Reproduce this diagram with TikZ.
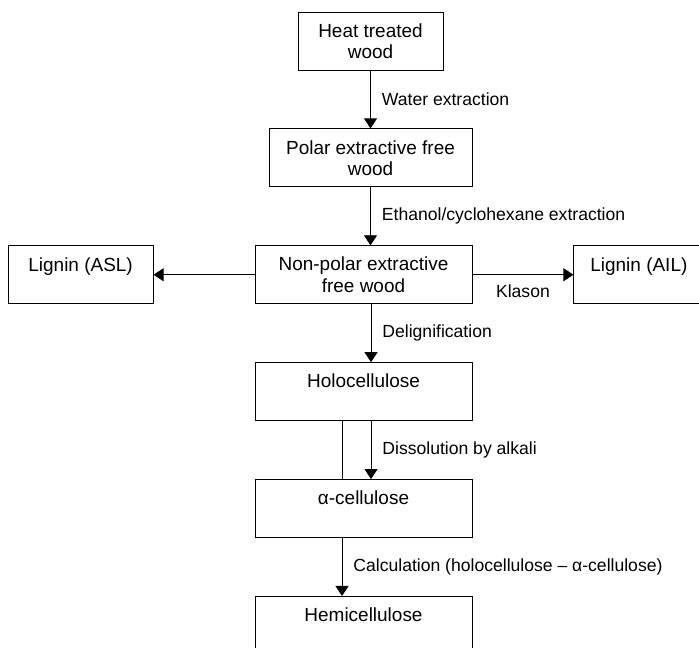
\documentclass[tikz,border=0pt]{standalone}
\usepackage{fontspec}
\setmainfont{Liberation Sans}
\usetikzlibrary{positioning,arrows.meta}

\begin{document}
\begin{tikzpicture}[
      node distance=1.16cm,
      box/.style={rectangle, draw=black, line width=0.5pt, inner sep=0pt,
                  minimum height=1.16cm, align=center,
                  font=\fontsize{10.8}{12}\selectfont},
      arrow/.style={-{Triangle[length=0.2cm, width=0.26cm]}, line width=0.5pt},
      note/.style={font=\fontsize{10}{12}\selectfont, inner sep=0pt}
    ]
    \useasboundingbox (0,0) rectangle (13.98,12.94);
    \clip (0,0) rectangle (13.98,12.94);

    \node[box, minimum width=2.9cm] (heat) at (7.41,12.12) {Heat treated\\wood};
    \node[box, minimum width=4.06cm, below=of heat] (polar) {Polar extractive free\\wood};
    \node[box, minimum width=4.34cm, below=of polar, xshift=-0.14cm] (nonpolar) {Non-polar extractive\\free wood};
    \node[box, minimum width=2.9cm, left=2.02cm of nonpolar] (asl) {Lignin (ASL)\\\mbox{}};
    \node[box, minimum width=2.6cm, right=2.02cm of nonpolar] (ail) {Lignin (AIL)\\\mbox{}};
    \node[box, minimum width=4.34cm, below=of nonpolar] (holo) {Holocellulose\\\mbox{}};
    \node[box, minimum width=4.34cm, below=of holo] (alpha) {α-cellulose\\\mbox{}};
    \node[box, minimum width=4.34cm, below=of alpha] (hemi) {Hemicellulose\\\mbox{}};

    \draw[arrow] (heat) -- node[note, right=0.22cm] {Water extraction} (polar);
    \draw[arrow] (polar.south) -- node[note, right=0.22cm] {Ethanol/cyclohexane extraction} (polar.south |- nonpolar.north);
    \draw[arrow] (nonpolar) -- (asl);
    \draw[arrow] (nonpolar) -- node[note, below=0.19cm] {Klason} (ail);
    \draw[arrow] ([xshift=0.15cm]nonpolar.south) -- node[note, right=0.22cm] {Delignification} ([xshift=0.15cm]holo.north);
    \draw[line width=0.5pt] ([xshift=-0.43cm]holo.south) -- ([xshift=-0.43cm]alpha.north);
    \draw[arrow] ([xshift=0.15cm]holo.south) -- node[note, right=0.22cm] {Dissolution by alkali} ([xshift=0.15cm]alpha.north);
    \draw[arrow] ([xshift=-0.43cm]alpha.south) -- node[note, right=0.22cm] {Calculation (holocellulose – α-cellulose)} ([xshift=-0.43cm]hemi.north);
\end{tikzpicture}
\end{document}
